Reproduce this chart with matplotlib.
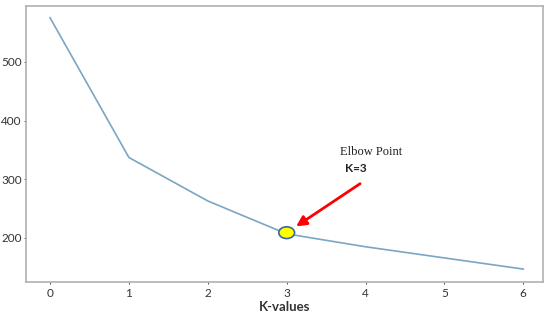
import matplotlib
matplotlib.use("Agg")
import matplotlib.pyplot as plt
from matplotlib.patches import Ellipse

k_values = [0, 1, 2, 3, 4, 5, 6]
scores = [575, 337, 263, 207, 185, 166, 147]
x_ticks = [0, 1, 2, 3, 4, 5, 6]
y_ticks = [200, 300, 400, 500]
elbow_k = 3

plt.rcParams['font.family'] = ['Lato', 'DejaVu Sans']

fig = plt.figure(figsize=(5.5, 3.14), dpi=100)
ax = fig.add_axes([26/550, 1-282/314, (543-26)/550, (282-6)/314])
ax.plot(k_values, scores, color='#7aa6c2', lw=1.2)
ax.set_xlim(-0.305, 6.25)
ax.set_ylim(125, 595)
ax.set_xticks(x_ticks)
ax.set_yticks(y_ticks)
ax.tick_params(labelsize=8.5, colors='#333333', length=1.5, width=0.6, pad=1.5)
ax.tick_params(axis='x', pad=3)
for s in ax.spines.values():
    s.set_color('#b0b0b0')
    s.set_linewidth(1.2)
ax.set_xlabel('K-values', fontsize=9.5, fontweight='bold', color='#333333', labelpad=1)

elbow_y = scores[k_values.index(elbow_k)]
ax.add_patch(Ellipse((elbow_k, elbow_y + 2), 0.2, 20, facecolor='#ffff00',
                     edgecolor='#3a66a8', lw=1.2, zorder=5))
ax.annotate('', xy=(elbow_k + 0.09, elbow_y + 10), xytext=(elbow_k + 0.96, elbow_y + 88),
            arrowprops=dict(arrowstyle='-|>,head_length=0.6,head_width=0.3', color='#ff0000', lw=2.0))
ax.text(elbow_k + 0.67, elbow_y + 135, 'Elbow Point', family='Liberation Serif', fontsize=9, color='#222222')
ax.text(elbow_k + 0.74, elbow_y + 106, 'K=3', fontsize=8.5, fontweight='bold', color='#222222')

fig.savefig('out.png', dpi=100)
